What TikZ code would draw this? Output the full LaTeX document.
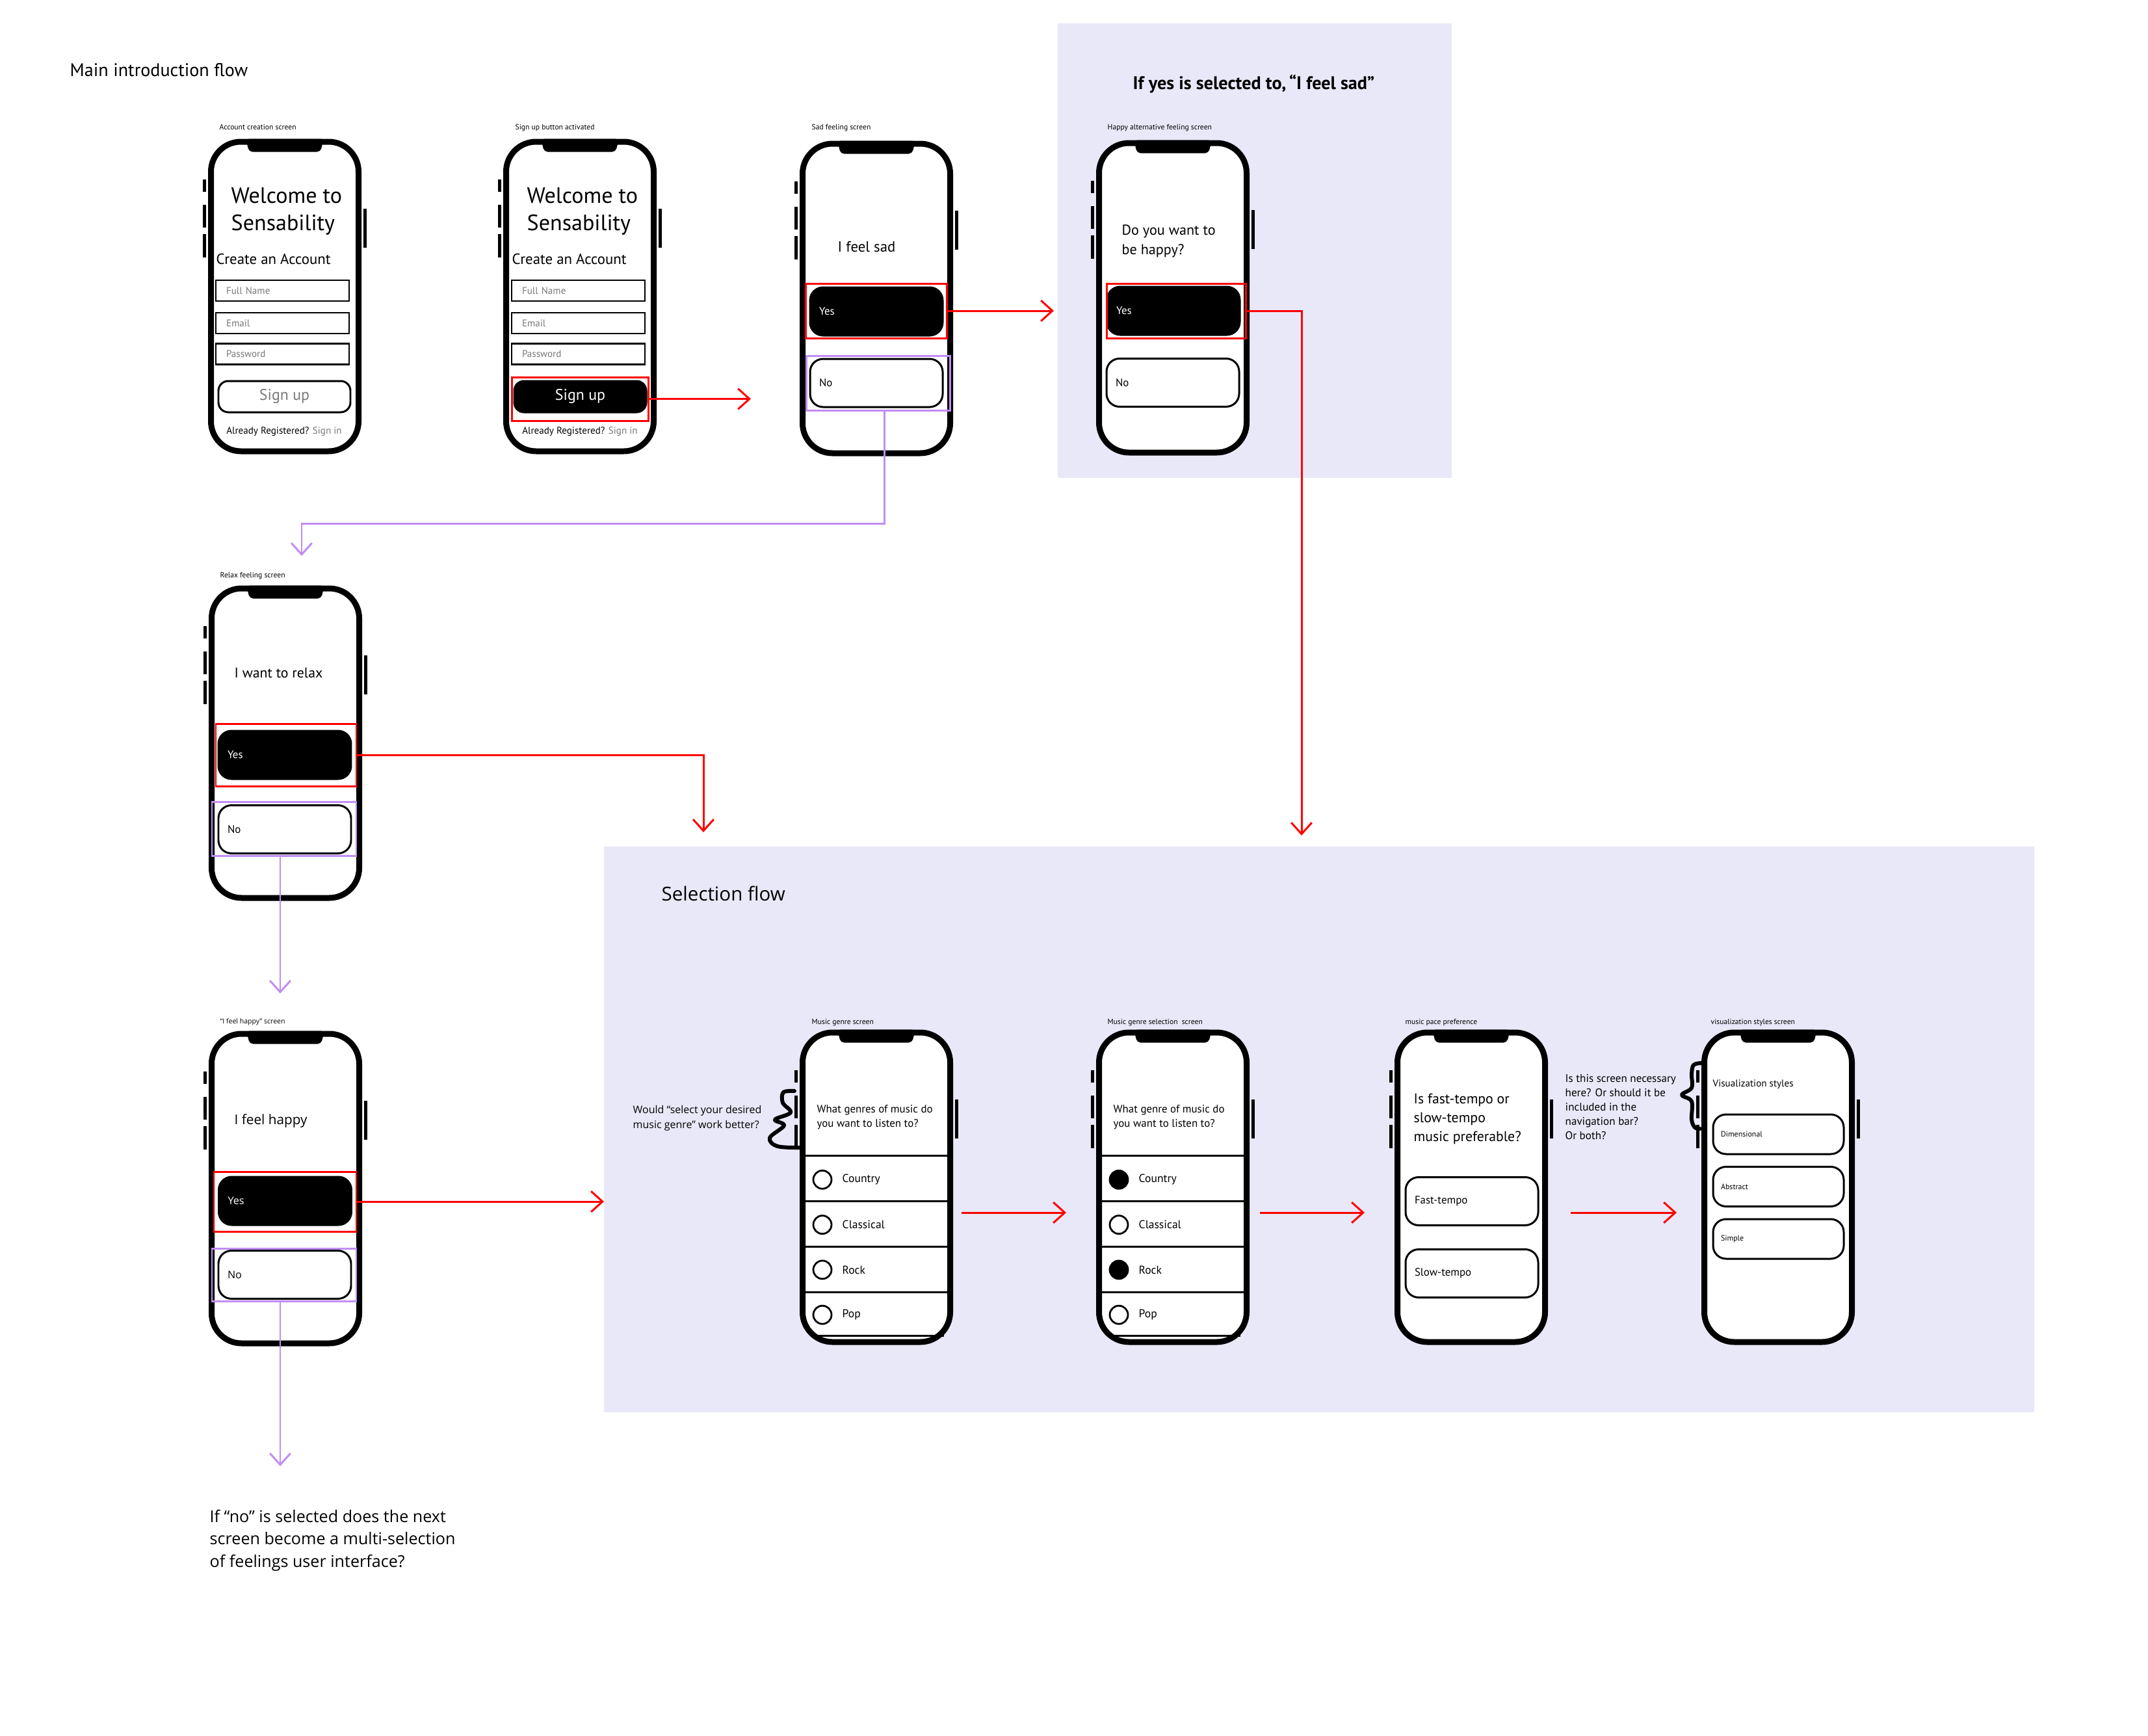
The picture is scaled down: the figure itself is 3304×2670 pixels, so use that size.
\documentclass[tikz,border=0pt]{standalone}
\usepackage{fontspec}
\setmainfont{PT Sans}
\newfontfamily\lucfont{Open Sans}
\usetikzlibrary{arrows.meta,calc}
\definecolor{lav}{RGB}{233,232,248}
\definecolor{hlred}{RGB}{255,0,0}
\definecolor{hlpurp}{RGB}{192,142,242}
\definecolor{hint}{RGB}{120,120,120}
\newcommand{\fsz}[2]{\fontsize{#1pt}{#2pt}\selectfont}
\tikzset{
    phone/.style = {draw, fill=white, line width=2.56pt, rounded corners=4.6mm,
        minimum width=22.7mm, minimum height=47.6mm, inner sep=0pt},
    scrlabel/.style = {anchor=base west, inner sep=0pt, font=\fsz{3.3}{4}},
    txt/.style = {anchor=base west, inner sep=0pt, align=left},
    field/.style = {draw, line width=0.7pt, minimum width=20.5mm, minimum height=3.2mm,
        text width=17.3mm, inner xsep=1.6mm, inner ysep=0pt, align=left, text=hint, font=\fsz{4.3}{5}},
    signbtn/.style = {draw, line width=0.85pt, rounded corners=1.5mm,
        minimum width=20.3mm, minimum height=4.8mm, font=\fsz{6.8}{8}},
    pbtn/.style = {draw, line width=0.85pt, fill=white, rounded corners=2mm,
        minimum width=20.4mm, minimum height=7.4mm, text width=17.6mm, inner xsep=1.4mm,
        align=left, font=\fsz{4.8}{6}},
    pbtnon/.style = {pbtn, fill=black, text=white},
    hlbox/.style = {draw=hlred, line width=0.85pt, inner sep=0pt},
    hlboxp/.style = {hlbox, draw=hlpurp},
    arrow/.style = {draw=hlred, line width=0.85pt, -{Straight Barb[length=5pt,width=9pt]}},
    arrowp/.style = {arrow, draw=hlpurp},
    radio/.style = {draw, circle, line width=0.8pt, minimum size=2.8mm, inner sep=0pt},
    squiggle/.style = {line width=1.7pt, line cap=round, line join=round}
}
\begin{document}
\begin{tikzpicture}[x=0.1mm, y=-0.1mm]
\useasboundingbox (0,0) rectangle (3304,2670);
% shaded areas
\fill[lav] (1627,36) rectangle (2233,735);
\fill[lav] (929,1302) rectangle (3129,2172);

\node[txt, font=\fsz{8}{10}] (maintitle) at (107,117) {Main introduction flow};
\node[txt, font=\bfseries\fsz{8}{11}] (yestitle) at (1742,137) {If yes is selected to,\,“I feel sad”};
\node[txt, font=\lucfont\fsz{8.4}{10}] (seltitle) at (1017,1385) {Selection flow};

% phones
\node[phone] (acct) at (438,456) {};
\node[phone] (signup) at (892,456) {};
\node[phone] (sad) at (1348,459) {};
\node[phone] (happyalt) at (1804,458) {};
\node[phone] (relax) at (439,1143) {};
\node[phone] (happy) at (439,1828) {};
\node[phone] (genre) at (1348,1826) {};
\node[phone] (genresel) at (1804,1826) {};
\node[phone] (pace) at (2263,1826) {};
\node[phone] (vis) at (2735,1826) {};
\foreach \p in {acct,signup,sad,happyalt,relax,happy,genre,genresel,pace,vis}{
    \fill[rounded corners=1.5pt] (\p.north) ++(-60,0) -- ++(5,20) -- ++(110,0) -- ++(5,-20) -- cycle;
    \fill (\p.north west) ++(-8,62) rectangle ++(5,19);
    \fill (\p.north west) ++(-8,101) rectangle ++(5,35);
    \fill (\p.north west) ++(-8,146) rectangle ++(5,36);
    \fill (\p.north east) ++(3,107) rectangle ++(5,60);
}

\node[scrlabel] (acctlbl) at (337,199) {Account creation screen};
\node[scrlabel] (signuplbl) at (792,199) {Sign up button activated};
\node[scrlabel] (sadlbl) at (1248,199) {Sad feeling screen};
\node[scrlabel] (happyaltlbl) at (1703,199) {Happy alternative feeling screen};
\node[scrlabel] (relaxlbl) at (338,888) {Relax feeling screen};
\node[scrlabel, font=\lucfont\fsz{3}{4}] (happylbl) at (338,1574) {“I feel happy” screen};
\node[scrlabel] (genrelbl) at (1248,1575) {Music genre screen};
\node[scrlabel] (genresellbl) at (1703,1575) {Music genre selection\ \ screen};
\node[scrlabel] (pacelbl) at (2161,1575) {music pace preference};
\node[scrlabel] (vislbl) at (2631,1575) {visualization styles screen};

% account screens
\foreach \p/\dx in {acct/0,signup/455}{
    \node[txt, font=\fsz{9.7}{11.7}] (\p-wel) at (355+\dx,354) {Welcome to\\Sensability};
    \node[txt, font=\fsz{6.5}{8}] (\p-create) at (332+\dx,406) {Create an Account};
    \node[field] (\p-fname) at (434.5+\dx,447) {Full Name};
    \node[field] (\p-email) at (434.5+\dx,497) {Email};
    \node[field] (\p-pass) at (434.5+\dx,544.5) {Password};
    \node[txt, anchor=base, font=\fsz{4.3}{5}] (\p-reg) at (437+\dx,667) {Already Registered? \textcolor{hint}{Sign in}};
}
\node[signbtn, text=hint] (acct-btn) at (437.5,610) {Sign up};
\node[signbtn, fill=black, text=white] (signup-btn) at (892.5,610) {Sign up};
\node[hlbox, minimum width=21mm, minimum height=6.7mm] (signup-hl) at (892,613.5) {};

% feeling screens
\node[txt, font=\fsz{6.5}{8}] (sad-q) at (1288,387) {I feel sad};
\node[pbtnon] (sad-yes) at (1348,479) {Yes};
\node[pbtn] (sad-no) at (1348,589) {No};
\node[hlbox, minimum width=21.7mm, minimum height=8.4mm] (sad-yeshl) at (1347.5,478) {};
\node[hlboxp, minimum width=22.1mm, minimum height=8.4mm] (sad-nohl) at (1350.5,589) {};

\node[txt, font=\fsz{6.3}{8.3}] (happyalt-q) at (1725,391) {Do you want to\\be happy?};
\node[pbtnon] (happyalt-yes) at (1805,478) {Yes};
\node[pbtn] (happyalt-no) at (1804,588.5) {No};
\node[hlbox, minimum width=21.4mm, minimum height=8.4mm] (happyalt-yeshl) at (1809,478) {};

\node[txt, font=\fsz{6.2}{7}] (relax-q) at (360,1042) {I want to relax};
\node[pbtnon] (relax-yes) at (438,1161) {Yes};
\node[pbtn] (relax-no) at (438,1275.5) {No};
\node[hlbox, minimum width=21.6mm, minimum height=9.6mm] (relax-yeshl) at (440,1161) {};
\node[hlboxp, minimum width=22.2mm, minimum height=8.3mm] (relax-nohl) at (437,1274.5) {};

\node[txt, font=\lucfont\fsz{5.9}{7}] (happy-q) at (360,1729) {I feel happy};
\node[pbtnon, font=\lucfont\fsz{4.6}{6}] (happy-yes) at (438.5,1847) {Yes};
\node[pbtn, font=\lucfont\fsz{4.6}{6}] (happy-no) at (438,1960.5) {No};
\node[hlbox, minimum width=21.9mm, minimum height=9.2mm] (happy-yeshl) at (438.5,1848) {};
\node[hlboxp, minimum width=22.2mm, minimum height=8.1mm] (happy-nohl) at (437,1960.5) {};

% genre screens
\node[txt, font=\fsz{4.8}{6}] (genre-q) at (1256,1733) {What genres of music do\\you want to listen to?};
\node[txt, font=\fsz{4.8}{6}] (genresel-q) at (1712,1733) {What genre of music do\\you want to listen to?};
\foreach \xr in {1265,1721}{
    \foreach \yy in {1777,1847,1917,1987}
        \draw[line width=0.85pt] (\xr-27,\yy) -- (\xr+201,\yy);
    \draw[line width=0.85pt] (\xr-14,2054) -- (\xr+187,2054);
}
\foreach \lab/\fc [count=\i] in {Country/white,Classical/white,Rock/white,Pop/white}{
    \node[radio, fill=\fc] (genre-r\i) at (1265,1745+69.3*\i) {};
    \node[txt, anchor=west, font=\fsz{5}{6}] (genre-l\i) at (1295,1745+69.3*\i) {\lab};
}
\foreach \lab/\fc [count=\i] in {Country/black,Classical/white,Rock/black,Pop/white}{
    \node[radio, fill=\fc] (genresel-r\i) at (1721,1745+69.3*\i) {};
    \node[txt, anchor=west, font=\fsz{5}{6}] (genresel-l\i) at (1751,1745+69.3*\i) {\lab};
}

% pace and styles
\node[txt, font=\fsz{6.2}{8.2}] (pace-q) at (2174,1755) {Is fast-tempo or\\slow-tempo\\music preferable?};
\node[pbtn] (pace-fast) at (2264,1847.5) {Fast-tempo};
\node[pbtn] (pace-slow) at (2264,1958.5) {Slow-tempo};
\node[txt, font=\fsz{4.3}{5}] (vis-q) at (2634,1671) {Visualization styles};
\foreach \lab [count=\i] in {Dimensional,Abstract,Simple}
    \node[pbtn, minimum width=20.1mm, minimum height=6.1mm, text width=17.7mm, inner xsep=1.2mm,
        font=\fsz{3.4}{4}] (vis-b\i) at (2735.5,1664+80.5*\i) {\lab};

% notes
\node[txt, font=\lucfont\fsz{4.55}{6.3}] (genrenote) at (973,1735) {Would “select your desired\\music genre” work better?};
\draw[squiggle] plot[smooth, tension=0.6] coordinates {(1222,1678) (1205,1680) (1204,1696) (1216,1711) (1192,1722) (1206,1731) (1184,1750) (1196,1763) (1232,1765)};
\node[txt, font=\fsz{4.85}{6.2}] (pacenote) at (2407,1752) {Is this screen necessary\\here? Or should it be\\included in the\\navigation bar?\\Or both?};
\draw[squiggle] plot[smooth, tension=0.6] coordinates {(2617,1635) (2605,1638) (2602,1652) (2602,1673) (2587,1684) (2602,1694) (2602,1722) (2607,1734) (2615,1736)};
\node[txt, font=\lucfont\fsz{7.15}{9.8}] (nonote) at (322,2410) {If “no” is selected does the next\\screen become a multi-selection\\of feelings user interface?};

% connectors
\coordinate (sadin) at (1155,613.5);
\coordinate (altin) at (1621,478);
\coordinate (selin1) at (2002,1285);
\coordinate (sadturn) at (464,805);
\coordinate (relaxin) at (464,855);
\coordinate (selin2) at (1082,1280);
\coordinate (happyin) at (431,1528);
\coordinate (selin3) at (929,1848);
\coordinate (noteq) at (431,2255);
\draw[arrow] (signup-hl.east) -- (sadin);
\draw[arrow] (sad-yeshl.east) -- (altin);
\draw[arrow] (happyalt-yeshl.east) -| (selin1);
\draw[arrowp] ($(sad-nohl.south)+(10,0)$) |- (sadturn) -- (relaxin);
\draw[arrow] (relax-yeshl.east) -| (selin2);
\draw[arrowp] (relax-nohl.south -| happyin) -- (happyin);
\draw[arrow] (happy-yeshl.east) -- (selin3);
\draw[arrowp] (happy-nohl.south -| noteq) -- (noteq);
\coordinate (gs1) at (1479,1865);
\coordinate (gs2) at (1640,1865);
\coordinate (sp1) at (1938,1865);
\coordinate (sp2) at (2099,1865);
\coordinate (pv1) at (2416,1865);
\coordinate (pv2) at (2579,1865);
\draw[arrow] (gs1) -- (gs2);
\draw[arrow] (sp1) -- (sp2);
\draw[arrow] (pv1) -- (pv2);
\end{tikzpicture}
\end{document}
